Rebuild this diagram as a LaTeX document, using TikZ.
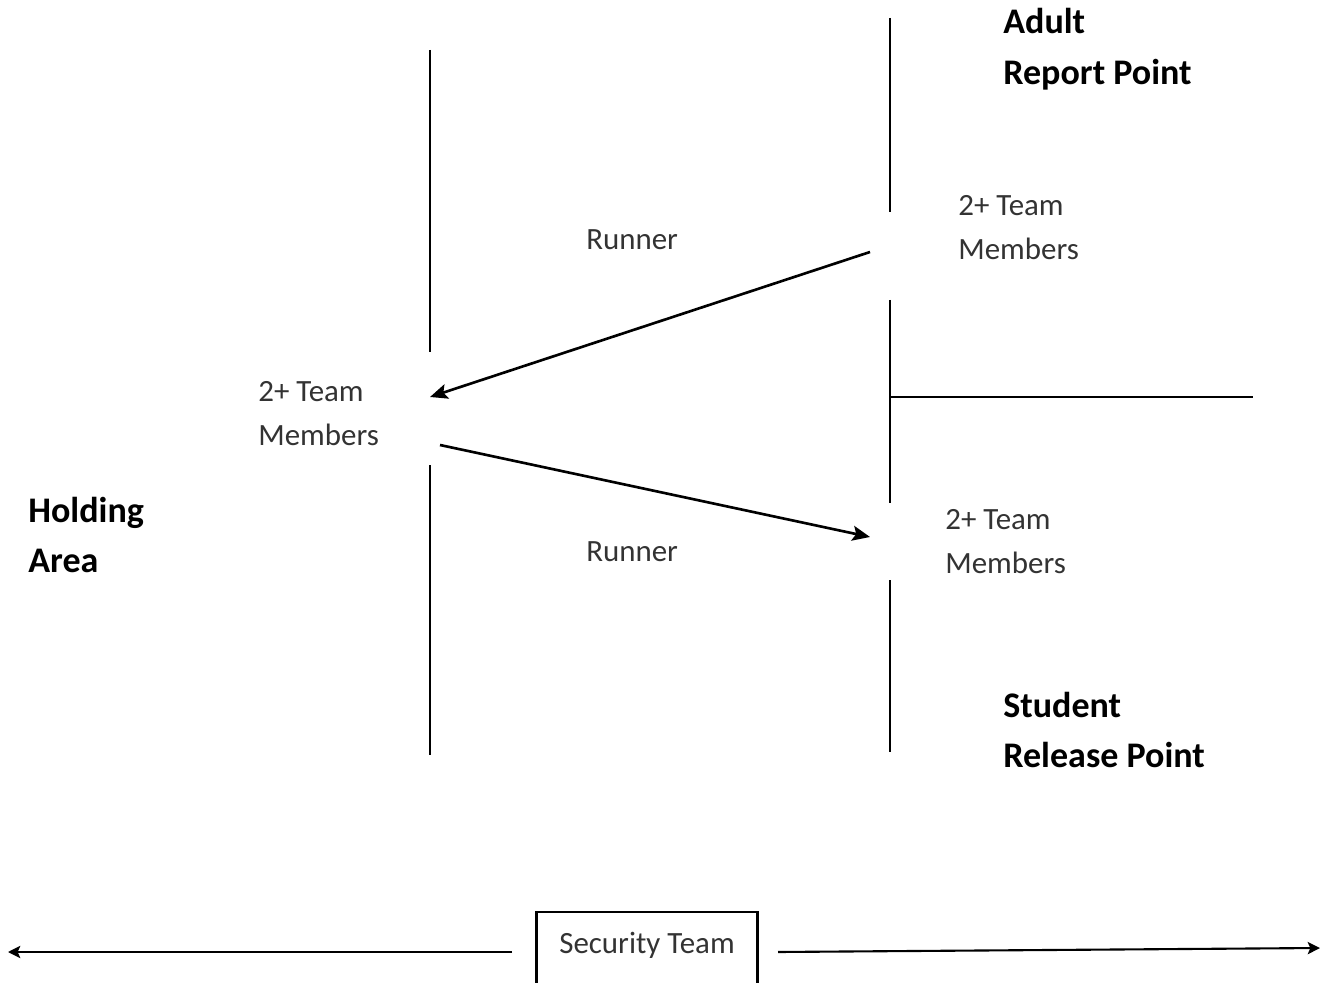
\documentclass[tikz,border=0pt]{standalone}
\usepackage{fontspec}
\setmainfont{Carlito}
\usetikzlibrary{arrows.meta}
\tikzset
 {> = {Stealth[length=10pt,width=8.5pt,inset=2pt]},     % filled tips as in the sketch
  wall/.style = {line width=1.6pt},                 % the barrier lines
  runner/.style = {line width=1.5pt, ->},           % runner paths
  guard/.style = {line width=1.2pt, ->, > = {Stealth[length=7pt,width=7pt,inset=1.5pt]}},
  team/.style = {anchor=west, inner sep=0pt, align=left, text=black!80,
                 font=\fontsize{17.6pt}{25pt}\selectfont},
  area/.style = {anchor=west, inner sep=0pt, align=left,
                 font=\bfseries\fontsize{20.5pt}{29pt}\selectfont}
 }

\begin{document}
\begin{tikzpicture}[x=0.02cm, y=-0.02cm]
    \useasboundingbox (0,0) rectangle (1323,983);
    \clip (0,0) rectangle (1323,983);
    % walls
    \draw[wall] (430,50) -- (430,352);
    \draw[wall] (430,465) -- (430,755);
    \draw[wall] (890,18) -- (890,212);
    \draw[wall] (890,300) -- (890,503);
    \draw[wall] (890,580) -- (890,752);
    \draw[wall] (890,397) -- (1253,397);
    % areas
    \node[area] (adult) at (1003,49) {Adult\\Report Point};
    \node[area] (hold) at (28,535) {Holding\\Area};
    \node[area] (student) at (1003,730) {Student\\Release Point};
    % teams
    \node[team] (ar team) at (958,228) {2+ Team\\Members};
    \node[team] (hold team) at (258,414) {2+ Team\\Members};
    \node[team] (sr team) at (945,542) {2+ Team\\Members};
    \node[team] (runner a) at (586,240) {Runner};
    \node[team] (runner b) at (586,552) {Runner};
    % runner paths
    \coordinate (ar out) at (870,252);
    \coordinate (hold in) at (430,397);
    \coordinate (hold out) at (440,445);
    \coordinate (sr in) at (870,537);
    \draw[runner] (ar out) -- (hold in);
    \draw[runner] (hold out) -- (sr in);
    % security
    \node[draw, line width=1.2pt, anchor=north, minimum width=4.42cm, inner ysep=0.4cm,
          text depth=1cm, text=black!80, font=\fontsize{17.6pt}{25pt}\selectfont]
        (sec) at (647,911) {Security Team};
    \coordinate (sec left) at (512,952);
    \coordinate (far left) at (8,952);
    \coordinate (sec right) at (778,952);
    \coordinate (far right) at (1320,948);
    \draw[guard] (sec left) -- (far left);
    \draw[guard] (sec right) -- (far right);
\end{tikzpicture}
\end{document}
